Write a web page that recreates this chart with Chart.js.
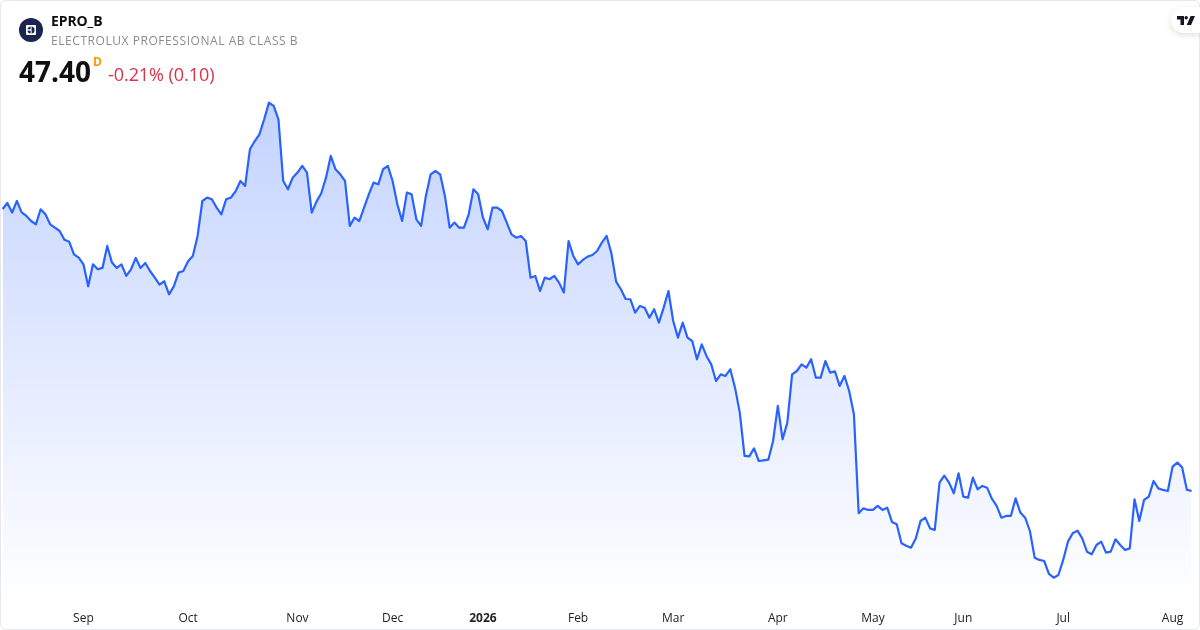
<!DOCTYPE html>
<html>
<head>
<meta charset="utf-8">
<title>EPRO_B</title>
<script src="https://cdn.jsdelivr.net/npm/chart.js@4"></script>
<style>
  html, body { margin: 0; padding: 0; background: #fff; }
  body { width: 1200px; height: 630px; overflow: hidden; font-family: "Open Sans", sans-serif; }
  #card { position: absolute; left: 0; top: 0; width: 1198px; height: 628px; border: 1px solid #e6e8ee; border-radius: 6px; }
  #wrap { position: absolute; left: 0; top: 0; width: 1200px; height: 630px; }
  .txt { position: absolute; white-space: nowrap; }
  #symbol { left: 51px; top: 12px; font-size: 14px; line-height: 18px; font-weight: 700; color: #0f0f0f; letter-spacing: -0.1px; }
  #company { left: 51px; top: 32px; font-size: 12px; line-height: 17px; color: #8c8c8c; letter-spacing: 0.56px; }
  #price { left: 19px; top: 52px; font-size: 28px; line-height: 38px; font-weight: 700; color: #0f0f0f; }
  #res { left: 93px; top: 54px; font-size: 12px; line-height: 16px; font-weight: 700; color: #ff9800; }
  #change { left: 108px; top: 62px; font-size: 18px; line-height: 25px; color: #dd3049; letter-spacing: -0.06px; }
  #logo { position: absolute; left: 19px; top: 18px; }
  #tv { position: absolute; left: 1171px; top: 7px; width: 29px; height: 26px; background: #fff; border-radius: 13px 0 0 13px; box-shadow: 0 2px 6px rgba(0,0,0,0.13); }
  #tv svg { position: absolute; left: 6px; top: 9px; }
</style>
</head>
<body>
<div id="card"></div>
<div id="wrap"><canvas id="chart" width="1200" height="630"></canvas></div>

<svg id="logo" width="24" height="24" viewBox="0 0 24 24">
  <circle cx="12" cy="12" r="12" fill="#1a2650"/>
  <rect x="7" y="7" width="10" height="10" rx="1" fill="#fff"/>
  <circle cx="12" cy="12" r="3.6" fill="#1a2650"/>
  <rect x="8" y="11.3" width="4" height="1.4" fill="#fff"/>
  <rect x="11.6" y="8" width="1" height="8" fill="#fff"/>
</svg>
<div class="txt" id="symbol">EPRO_B</div>
<div class="txt" id="company">ELECTROLUX PROFESSIONAL AB CLASS B</div>
<div class="txt" id="price">47.40</div>
<div class="txt" id="res">D</div>
<div class="txt" id="change">-0.21% (0.10)</div>
<div id="tv">
  <svg width="18" height="9" viewBox="0 0 18 9">
    <path d="M0 0h7v9H3.5V3.4H0z" fill="#131722"/>
    <circle cx="9.2" cy="1.7" r="1.7" fill="#131722"/>
    <path d="M13.6 0H18l-3.9 9H9.7z" fill="#131722"/>
  </svg>
</div>

<script>
// daily closes
const closes = [
  68.55, 69.00, 68.28, 69.15, 68.30, 68.03, 67.65, 67.40, 68.53, 68.15,
  67.40, 67.15, 66.90, 66.25, 66.10, 65.15, 64.90, 64.40, 62.75, 64.40,
  64.03, 64.13, 65.78, 64.53, 64.13, 64.40, 63.53, 64.03, 64.88, 64.13,
  64.50, 63.90, 63.40, 62.88, 63.13, 62.15, 62.75, 63.78, 63.90, 64.63,
  65.03, 66.53, 69.15, 69.40, 69.28, 68.65, 68.15, 69.28, 69.40, 69.88,
  70.65, 70.28, 73.03, 73.63, 74.15, 75.28, 76.53, 76.28, 75.28, 70.65,
  70.03, 70.90, 71.28, 71.78, 71.28, 68.28, 69.10, 69.73, 70.90, 72.53,
  71.53, 71.15, 70.65, 67.28, 67.90, 67.65, 68.65, 69.65, 70.53, 70.40,
  71.53, 71.78, 70.65, 68.90, 67.65, 69.78, 69.65, 67.78, 67.28, 69.53,
  71.15, 71.40, 71.15, 69.53, 67.15, 67.53, 67.15, 67.15, 68.15, 70.03,
  69.65, 67.90, 67.03, 68.65, 68.65, 68.40, 67.53, 66.65, 66.40, 66.53,
  66.15, 63.40, 63.53, 62.40, 63.40, 63.28, 63.53, 63.03, 62.28, 66.15,
  65.03, 64.40, 64.73, 64.98, 65.10, 65.40, 66.03, 66.53, 65.23, 63.10,
  62.53, 61.80, 61.78, 60.78, 61.28, 61.15, 60.40, 61.03, 60.03, 61.15,
  62.40, 60.15, 58.90, 60.03, 58.90, 58.65, 57.28, 58.40, 57.53, 56.90,
  55.65, 56.15, 56.03, 56.53, 55.15, 53.28, 50.03, 50.00, 50.60, 49.65,
  49.70, 49.75, 51.15, 53.78, 51.28, 52.53, 56.15, 56.40, 56.90, 56.65,
  57.28, 55.90, 55.90, 57.15, 56.28, 56.38, 55.28, 56.03, 54.90, 53.15,
  45.73, 46.10, 45.98, 45.98, 46.28, 45.98, 46.15, 45.08, 44.90, 43.48,
  43.30, 43.15, 43.83, 45.15, 45.40, 44.60, 44.48, 48.03, 48.55, 48.03,
  47.23, 48.73, 46.98, 46.90, 48.40, 47.53, 47.78, 47.65, 46.83, 46.28,
  45.40, 45.53, 45.53, 46.85, 45.78, 45.40, 44.40, 42.40, 42.23, 42.15,
  41.18, 40.90, 41.10, 42.23, 43.60, 44.23, 44.43, 43.85, 42.85, 42.65,
  43.35, 43.60, 42.78, 42.85, 43.78, 43.35, 42.98, 43.10, 46.78, 45.15,
  46.73, 46.98, 48.15, 47.60, 47.48, 47.40, 49.23, 49.53, 49.18, 47.50,
  47.40
];
const tickLabels = ['Sep', 'Oct', 'Nov', 'Dec', '2026', 'Feb', 'Mar', 'Apr', 'May', 'Jun', 'Jul', 'Aug'];
const tickBars = [17, 39, 62, 82, 101, 121, 141, 163, 183, 202, 223, 246];

const ctx = document.getElementById('chart').getContext('2d');

function areaFill(context) {
    const area = context.chart.chartArea;
    if (!area) return 'rgba(41, 98, 255, 0.15)';
    const g = context.chart.ctx.createLinearGradient(0, 103, 0, area.bottom);
    g.addColorStop(0, 'rgba(41, 98, 255, 0.28)');
    g.addColorStop(1, 'rgba(41, 98, 255, 0)');
    return g;
}

new Chart(ctx, {
    type: 'line',
    data: {
        labels: closes.map((c, i) => i),
        datasets: [{
            data: closes,
            borderColor: '#2962ff',
            borderWidth: 2.2,
            borderJoinStyle: 'round',
            pointRadius: 0,
            tension: 0,
            fill: 'start',
            backgroundColor: areaFill
        }]
    },
    options: {
        responsive: false,
        animation: false,
        layout: { padding: { left: 2.6, right: 8.4, top: 0, bottom: 0 } },
        plugins: { legend: { display: false }, tooltip: { enabled: false } },
        scales: {
            x: {
                grid: { display: false },
                border: { display: false },
                afterFit: scale => { scale.height = 30; },
                ticks: {
                    autoSkip: false,
                    maxRotation: 0,
                    padding: 3,
                    color: '#222222',
                    font: c => ({
                        family: '"Open Sans", sans-serif',
                        size: 12,
                        weight: c.tick && c.tick.label === '2026' ? '700' : '400'
                    }),
                    callback: (v, i) => {
                        const k = tickBars.indexOf(i);
                        return k < 0 ? null : tickLabels[k];
                    }
                }
            },
            y: { display: false, min: 39.225, max: 84.225 }
        }
    }
});
</script>
</body>
</html>
